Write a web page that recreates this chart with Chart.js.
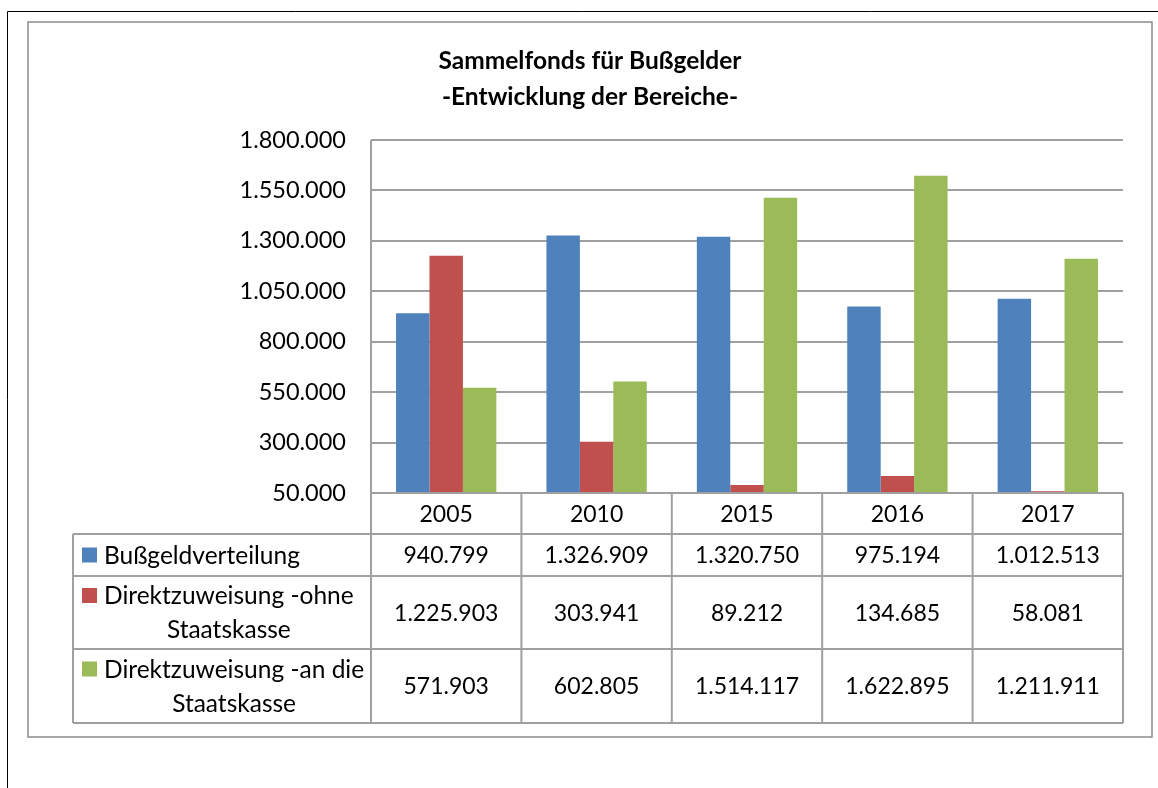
<!DOCTYPE html>
<html>
<head>
<meta charset="utf-8">
<title>Sammelfonds für Bußgelder</title>
<script src="https://cdn.jsdelivr.net/npm/chart.js@4"></script>
<style>
  html, body { margin: 0; padding: 0; background: #fff; }
  #wrap { width: 1158px; height: 788px; }
</style>
</head>
<body>
<div id="wrap"><canvas id="chart" width="1158" height="788"></canvas></div>
<script>
const years = ['2005', '2010', '2015', '2016', '2017'];
const bussgeldVerteilung = [940799, 1326909, 1320750, 975194, 1012513];
const ohneStaatskasse = [1225903, 303941, 89212, 134685, 58081];
const anStaatskasse = [571903, 602805, 1514117, 1622895, 1211911];

const seriesNames = [
    ['Bußgeldverteilung'],
    ['Direktzuweisung -ohne', 'Staatskasse'],
    ['Direktzuweisung -an die', 'Staatskasse'],
];
const seriesColors = ['#4f81bd', '#c0504d', '#9bbb59'];
const titleLines = ['Sammelfonds für Bußgelder', '-Entwicklung der Bereiche-'];

const FONT = 'Lato, "Open Sans", sans-serif';
const GRID = '#a0a0a0';

function fmt(n) {
    return String(n).replace(/\B(?=(\d{3})+(?!\d))/g, '.');
}

// table rows below the plot: header, then one row per series
const rowBottoms = [534, 576, 649, 723];
const tableLeft = 73;

const pagePlugin = {
    id: 'page',
    beforeDraw(chart) {
        const ctx = chart.ctx;
        ctx.save();
        ctx.fillStyle = '#fff';
        ctx.fillRect(0, 0, chart.width, chart.height);
        // page border (top + left)
        ctx.strokeStyle = '#000';
        ctx.lineWidth = 1;
        ctx.beginPath();
        ctx.moveTo(7.5, 788);
        ctx.lineTo(7.5, 11.5);
        ctx.lineTo(1158, 11.5);
        ctx.stroke();
        // chart frame
        ctx.strokeStyle = '#8c8c8c';
        ctx.lineWidth = 1.5;
        ctx.strokeRect(28, 22, 1124, 715);
        ctx.restore();
    },
    afterDraw(chart) {
        const ctx = chart.ctx;
        const area = chart.chartArea;
        const x = chart.scales.x;
        const colW = (area.right - area.left) / years.length;
        ctx.save();

        // title
        ctx.fillStyle = '#000';
        ctx.font = 'bold 24.5px ' + FONT;
        ctx.textAlign = 'center';
        ctx.textBaseline = 'middle';
        titleLines.forEach((t, i) => ctx.fillText(t, 590, 61 + i * 36));

        // table grid
        ctx.strokeStyle = GRID;
        ctx.lineWidth = 2;
        ctx.beginPath();
        ctx.moveTo(area.left, area.bottom);
        ctx.lineTo(area.right, area.bottom);
        rowBottoms.forEach(y => {
            ctx.moveTo(tableLeft, y);
            ctx.lineTo(area.right, y);
        });
        ctx.moveTo(tableLeft, rowBottoms[0]);
        ctx.lineTo(tableLeft, rowBottoms[3]);
        ctx.moveTo(area.left, area.top);
        ctx.lineTo(area.left, rowBottoms[3]);
        for (let i = 1; i <= years.length; i++) {
            const cx = area.left + i * colW;
            ctx.moveTo(cx, area.bottom);
            ctx.lineTo(cx, rowBottoms[3]);
        }
        ctx.stroke();

        // header row: years
        ctx.font = '23px ' + FONT;
        ctx.fillStyle = '#000';
        years.forEach((y, i) => {
            ctx.fillText(y, x.getPixelForValue(i), (area.bottom + rowBottoms[0]) / 2 + 1);
        });

        // series rows
        const data = [bussgeldVerteilung, ohneStaatskasse, anStaatskasse];
        const lineH = 34;
        data.forEach((vals, r) => {
            const top = rowBottoms[r];
            const bottom = rowBottoms[r + 1];
            const mid = (top + bottom) / 2;
            ctx.font = '23px ' + FONT;
            ctx.textAlign = 'center';
            vals.forEach((v, i) => {
                ctx.fillStyle = '#000';
                ctx.fillText(fmt(v), x.getPixelForValue(i), mid + 1);
            });
            // legend key + wrapped label, block starts after the key
            const lines = seriesNames[r];
            ctx.font = '24.5px ' + FONT;
            const keyX = tableLeft + 9, key = 15, textX = keyX + 22;
            const blockW = Math.max(...lines.map(t => ctx.measureText(t).width));
            const blockMid = textX + blockW / 2;
            lines.forEach((t, li) => {
                const y = mid + (li - (lines.length - 1) / 2) * lineH + 1;
                if (li === 0) {
                    ctx.fillStyle = seriesColors[r];
                    ctx.fillRect(keyX, y - key / 2 - 1, key, key);
                }
                ctx.fillStyle = '#000';
                ctx.fillText(t, blockMid, y);
            });
        });
        ctx.restore();
    },
};

new Chart(document.getElementById('chart'), {
    type: 'bar',
    data: {
        labels: years,
        datasets: [
            { label: seriesNames[0].join(' '), data: bussgeldVerteilung, backgroundColor: seriesColors[0] },
            { label: seriesNames[1].join(' '), data: ohneStaatskasse, backgroundColor: seriesColors[1] },
            { label: seriesNames[2].join(' '), data: anStaatskasse, backgroundColor: seriesColors[2] },
        ],
    },
    options: {
        responsive: false,
        animation: false,
        layout: { padding: { left: 28, top: 140, right: 35, bottom: 295 } },
        datasets: {
            bar: { categoryPercentage: 0.667, barPercentage: 1.0 },
        },
        plugins: {
            legend: { display: false },
            title: { display: false },
            tooltip: { enabled: false },
        },
        scales: {
            x: {
                display: false,
            },
            y: {
                min: 50000,
                max: 1800000,
                afterFit: scale => { scale.width = 343; },
                ticks: {
                    stepSize: 250000,
                    color: '#000',
                    padding: 25,
                    font: { family: FONT, size: 23.5 },
                    callback: v => fmt(v),
                },
                grid: { color: GRID, lineWidth: 2, drawTicks: false },
                border: { display: false },
            },
        },
    },
    plugins: [pagePlugin],
});
</script>
</body>
</html>
